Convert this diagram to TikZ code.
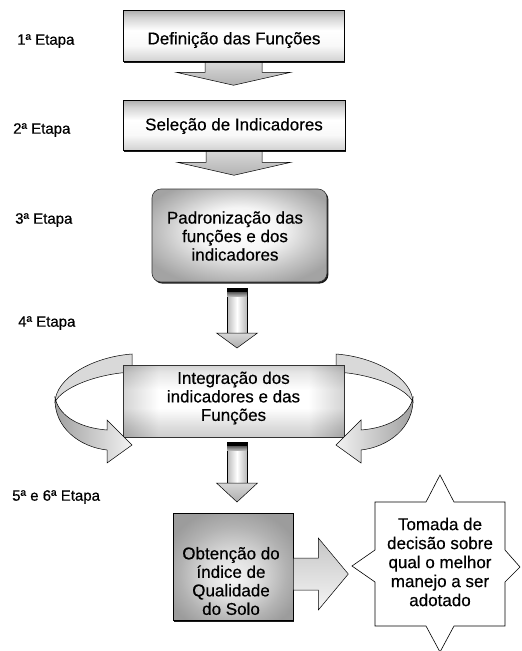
\documentclass[tikz,border=0pt]{standalone}
\usepackage{fontspec}
\setmainfont{Liberation Sans}[FakeBold=0.5]
\usetikzlibrary{calc,shadows}
\pgfdeclarelayer{bg}
\pgfsetlayers{bg,main}
\pgfdeclareverticalshading{cylshade}{100bp}{color(0bp)=(gray!70); color(25bp)=(gray!70); color(33bp)=(gray!45); color(45bp)=(white); color(58bp)=(white); color(70bp)=(gray!35); color(75bp)=(gray!65); color(100bp)=(gray!65)}
\pgfdeclarehorizontalshading{cylside}{100bp}{color(0bp)=(gray!75); color(25bp)=(gray!75); color(33bp)=(white); color(67bp)=(white); color(75bp)=(gray!75); color(100bp)=(gray!75)}
\pgfdeclareverticalshading{boxshade}{100bp}{color(0bp)=(gray!35); color(25bp)=(gray!35); color(40bp)=(white!95!gray); color(55bp)=(white); color(68bp)=(gray!35); color(75bp)=(gray!65); color(100bp)=(gray!65)}
\pgfdeclareradialshading{softround}{\pgfpoint{0bp}{4bp}}{color(0bp)=(white); color(12bp)=(white!92!gray); color(22bp)=(gray!45); color(30bp)=(gray!72); color(50bp)=(gray!72)}
\pgfdeclareradialshading{darkround}{\pgfpoint{0bp}{-6bp}}{color(0bp)=(white!92!gray); color(10bp)=(gray!25); color(22bp)=(gray!60); color(30bp)=(gray!78); color(50bp)=(gray!78)}
\begin{document}
\begin{tikzpicture}[x=1pt,y=-1pt,
  lbl/.style={anchor=west,inner sep=0pt,font=\fontsize{15}{18}\selectfont},
  btxt/.style={inner sep=0pt,align=center,font=\fontsize{17}{18.5}\selectfont},
  stxt/.style={inner sep=0pt,align=center,font=\fontsize{17}{19}\selectfont},
  shad/.style={drop shadow={shadow xshift=1.4pt,shadow yshift=-1.6pt,fill=black,opacity=0.9}},
  boxA/.style={draw=black,line width=0.5pt,shade,shading=boxshade,shad,inner sep=0pt},
  boxR/.style={draw=black!80,line width=0.6pt,rounded corners=9pt,shade,shading=softround,shad,inner sep=0pt},
  boxC/.style={draw=black!80,line width=0.6pt,shade,shading=cylshade,inner sep=0pt,
     path picture={\shade[shading=cylside,opacity=0.45] (path picture bounding box.south west) rectangle (path picture bounding box.north east);}},
  boxD/.style={draw=black,line width=0.6pt,shade,shading=darkround,shad,inner sep=0pt},
  fatarrow/.style={draw=black,line width=0.5pt,top color=gray!30,bottom color=gray!60},
  stemarrow/.style={draw=black,line width=0.5pt,left color=gray!55,right color=gray!55,middle color=white},
  headarrow/.style={draw=black,line width=0.5pt,top color=gray!30,bottom color=gray!65},
  ribback/.style={draw=black,line width=0.5pt,fill=gray!30},
  ]
\useasboundingbox (0,0) rectangle (522,651);

% stage labels
\node[lbl] (l1) at (17,41) {1ª Etapa};
\node[lbl] (l2) at (13,130) {2ª Etapa};
\node[lbl] (l3) at (15,220) {3ª Etapa};
\node[lbl] (l4) at (18,323) {4ª Etapa};
\node[lbl] (l5) at (12,497) {5ª e 6ª Etapa};

% boxes
\node[boxA,minimum width=221pt,minimum height=51pt] (b1) at (233.5,35.5) {};
\node[btxt] (t1) at (234,40) {Definição das Funções};
\node[boxA,minimum width=222pt,minimum height=50pt] (b2) at (234,125) {};
\node[btxt] (t2) at (234,126) {Seleção de Indicadores};
\node[boxR,minimum width=175pt,minimum height=93pt] (b3) at (239.5,235.5) {};
\node[btxt] (t3) at (235,236) {Padronização das\\funções e dos\\indicadores};

% fat arrows behind boxes
\begin{pgfonlayer}{bg}
\draw[fatarrow] ($(b1.south)+(-28.5,0)$) -- ($(b1.south)+(28.5,0)$) -- ($(b1.south)+(28.5,11)$) -- ($(b1.south)+(57.5,11)$) -- ($(b1.south)+(0,24)$) -- ($(b1.south)+(-57.5,11)$) -- ($(b1.south)+(-28.5,11)$) -- cycle;
\draw[fatarrow] ($(b2.south)+(-28,0)$) -- ($(b2.south)+(28,0)$) -- ($(b2.south)+(28,12)$) -- ($(b2.south)+(57,12)$) -- ($(b2.south)+(0,25)$) -- ($(b2.south)+(-57,12)$) -- ($(b2.south)+(-28,12)$) -- cycle;
% back parts of the curved arrows
\draw[ribback] (132,354) .. controls (92,357) and (56,378) .. (55,402) .. controls (62,388) and (95,374) .. (132,372) -- cycle;
\draw[ribback] (336,354) .. controls (376,357) and (412,378) .. (413,402) .. controls (406,388) and (373,374) .. (336,372) -- cycle;
\end{pgfonlayer}

% thin arrow 3
\coordinate (a3) at (237,288);
\draw[stemarrow] ($(a3)+(-10,0)$) rectangle ($(a3)+(10,46)$);
\fill[top color=black,bottom color=gray!60] ($(a3)+(-10,0)$) rectangle ($(a3)+(10,8)$);
\fill[black] ($(a3)+(-10,0)$) rectangle ($(a3)+(10,4)$);
\draw[headarrow] ($(a3)+(-20.5,45)$) -- ($(a3)+(20.5,45)$) -- ($(a3)+(0,60)$) -- cycle;

% box 4 with the two turning arrows
\node[boxC,minimum width=221pt,minimum height=72pt] (b4) at (233.5,401) {};
\node[btxt] (t4) at (233.5,398) {Integração dos\\indicadores e das\\Funções};
\draw[line width=0.5pt,left color=gray!75,right color=gray!10] (55,398) .. controls (54,428) and (80,447) .. (107,450) -- (107,463) -- (132,445) -- (107,420) -- (107,430) .. controls (82,428) and (60,418) .. (55,398) -- cycle;
\draw[line width=0.5pt,right color=gray!75,left color=gray!10] (413,398) .. controls (414,428) and (388,447) .. (361,450) -- (361,463) -- (336,445) -- (361,420) -- (361,430) .. controls (386,428) and (408,418) .. (413,398) -- cycle;

% thin arrow 4
\coordinate (a4) at (237,442);
\draw[stemarrow] ($(a4)+(-10,0)$) rectangle ($(a4)+(10,42)$);
\fill[top color=black,bottom color=gray!60] ($(a4)+(-10,0)$) rectangle ($(a4)+(10,8)$);
\fill[black] ($(a4)+(-10,0)$) rectangle ($(a4)+(10,4)$);
\draw[headarrow] ($(a4)+(-20.5,41)$) -- ($(a4)+(20.5,41)$) -- ($(a4)+(0,60)$) -- cycle;

% star (filled first)
\coordinate (sc) at (440,564);
\begin{scope}[shift={(sc)}]
\fill[white] (0,-89) -- (14,-62) -- (65,-62) -- (65,-14) -- (80,3) -- (65,18) -- (65,62) -- (14,62) -- (0,88) -- (-14,62) -- (-65,62) -- (-65,18) -- (-88,2) -- (-65,-14) -- (-65,-62) -- (-14,-62) -- cycle;
\end{scope}

% box 5 and its arrow
\node[boxD,minimum width=120pt,minimum height=107pt] (b5) at (233,566.5) {};
\draw[line width=0.5pt,top color=gray!45,bottom color=gray!8] ($(b5.east)+(0,-8.5)$) -- ($(b5.east)+(25,-8.5)$) -- ($(b5.east)+(25,-28.5)$) -- ($(b5.east)+(55,7.5)$) -- ($(b5.east)+(25,43.5)$) -- ($(b5.east)+(25,23.5)$) -- ($(b5.east)+(0,23.5)$) -- cycle;
\node[btxt] (t5) at (231,581) {Obtenção do\\índice de\\Qualidade\\do Solo};

% star outline and text
\begin{scope}[shift={(sc)}]
\draw[line width=0.6pt] (0,-89) -- (14,-62) -- (65,-62) -- (65,-14) -- (80,3) -- (65,18) -- (65,62) -- (14,62) -- (0,88) -- (-14,62) -- (-65,62) -- (-65,18) -- (-88,2) -- (-65,-14) -- (-65,-62) -- (-14,-62) -- cycle;
\end{scope}
\node[stxt] (ts) at (440,562) {Tomada de\\decisão sobre\\qual o melhor\\manejo a ser\\adotado};
\end{tikzpicture}
\end{document}
